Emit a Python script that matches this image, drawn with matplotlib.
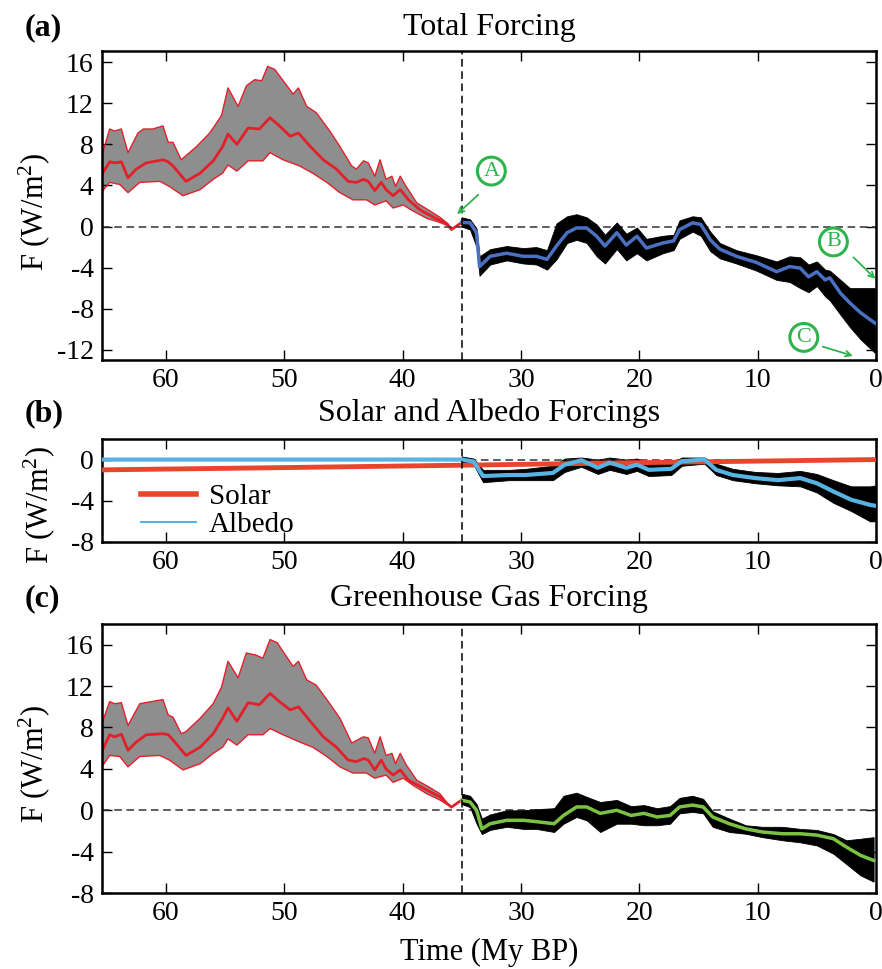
import numpy as np
import matplotlib.pyplot as plt
from matplotlib.lines import Line2D

plt.rcParams['font.family'] = ['Liberation Serif', 'DejaVu Serif']
plt.rcParams['mathtext.fontset'] = 'custom'
plt.rcParams['mathtext.rm'] = 'Liberation Serif'
plt.rcParams['mathtext.it'] = 'Liberation Serif:italic'
plt.rcParams['axes.unicode_minus'] = False

# ---- panel (a): total forcing before 35 My (envelope + central estimate)
a_up_x = [65.4, 64.75, 64.33, 63.76, 63.2, 62.36, 61.9, 61.1, 60.25, 59.8, 59.4, 58.7,
          58.3, 57.4, 56.3, 55.3, 54.75, 53.9, 53.2, 52.5, 51.9, 51.4, 50.8, 49.96,
          49.25, 48.8, 48.1, 47.3, 46.15, 45.3, 44.3, 43.9, 43.3, 42.9, 42.35, 41.9,
          41.4, 40.9, 40.6, 40.2, 39.7, 38.8, 37.8, 36.85, 36.2]
a_up_y = [6.9, 9.5, 9.3, 9.5, 7.2, 9.1, 9.5, 9.5, 9.8, 8.2, 8.2, 6.5,
          6.9, 7.8, 9.1, 10.8, 13.5, 11.7, 13.7, 14.3, 14.2, 15.6, 15.3, 14.0,
          12.9, 13.5, 11.7, 11.1, 9.3, 7.8, 5.9, 5.6, 6.4, 6.2, 4.9, 6.5,
          4.6, 4.9, 3.9, 4.9, 3.9, 2.3, 1.6, 0.9, 0.3]
a_lo_x = [65.4, 64.75, 63.9, 63.2, 62.2, 60.5, 59.7, 58.55, 57.1, 56.0, 55.2, 54.75,
          54.0, 53.05, 51.8, 51.2, 50.1, 48.7, 47.6, 46.4, 45.3, 44.2, 43.05, 42.35,
          41.4, 40.8, 39.95, 39.1, 37.95, 36.85, 36.2]
a_lo_y = [3.4, 4.3, 4.1, 3.3, 4.3, 4.4, 3.9, 3.0, 3.6, 4.6, 5.2, 6.0,
          5.4, 6.4, 6.4, 7.2, 6.5, 5.9, 5.2, 4.3, 3.3, 2.6, 2.6, 2.1,
          2.5, 1.8, 2.1, 1.5, 0.8, 0.4, 0.1]
a_mid_x = [65.4, 64.75, 64.3, 63.76, 63.2, 62.5, 61.65, 60.25, 59.8, 59.4, 58.3, 57.1,
           56.0, 55.2, 54.75, 54.0, 53.05, 52.1, 51.2, 50.4, 49.5, 48.8, 47.8, 46.7,
           45.6, 44.6, 43.9, 43.3, 42.9, 42.35, 41.8, 41.4, 40.8, 40.2, 39.5, 38.5,
           37.7, 36.85, 36.2, 35.87, 35.0]
a_mid_y = [5.1, 6.3, 6.2, 6.3, 4.75, 5.6, 6.2, 6.5, 6.3, 5.9, 4.4, 5.2,
           6.4, 7.8, 9.0, 8.0, 9.6, 9.5, 10.6, 9.8, 8.8, 9.1, 7.8, 6.5,
           5.6, 4.4, 4.3, 4.6, 4.4, 3.5, 4.3, 3.6, 3.0, 3.6, 2.6, 1.6,
           1.1, 0.6, 0.2, -0.3, 0.4]

# ---- panel (a): after 35 My, smoothed curve and spread of the data
a_post_x = [35.0, 34.3, 33.75, 33.5, 32.6, 31.2, 29.8, 28.7, 27.8, 27.0, 26.1, 25.3,
            24.45, 23.6, 22.9, 21.9, 21.1, 20.2, 19.4, 18.0, 17.1, 16.6, 15.5, 14.8,
            14.0, 13.2, 11.8, 10.1, 8.4, 7.3, 6.4, 5.7, 5.0, 4.3, 3.9, 3.0, 2.2, 1.3, 0.1]
a_post_y = [0.4, 0.36, -0.6, -3.9, -2.9, -2.6, -2.9, -2.9, -3.2, -1.9, -0.6, -0.14,
            -0.14, -0.95, -1.9, -0.6, -1.8, -0.95, -2.1, -1.6, -1.4, -0.3, 0.36, 0.2,
            -1.3, -2.2, -2.9, -3.5, -4.4, -3.9, -4.05, -4.9, -4.4, -5.2, -5.0, -6.5,
            -7.45, -8.4, -9.4]
a_post_up = [0.9, 0.7, -0.2, -2.9, -2.2, -1.9, -2.1, -2.0, -2.3, 0.3, 1.0, 1.2,
             0.9, 0.2, -0.8, 0.4, -0.7, -0.1, -1.2, -0.9, -0.8, 0.6, 1.0, 0.9,
             -0.5, -1.6, -2.3, -2.8, -3.4, -2.9, -3.0, -3.7, -3.4, -4.2, -4.3, -5.2,
             -6.0, -6.0, -6.0]
a_post_lo = [0.0, -0.3, -2.0, -4.8, -3.7, -3.3, -3.6, -3.7, -4.2, -3.2, -1.6, -1.3,
             -1.6, -2.9, -3.6, -2.2, -3.3, -2.6, -3.3, -2.6, -2.3, -1.2, -0.5, -0.9,
             -2.4, -3.1, -3.6, -4.3, -5.2, -5.4, -6.0, -6.4, -5.8, -6.8, -7.2, -8.6,
             -9.8, -11.0, -12.3]

# ---- panel (b): solar and albedo
solar_x = [65.4, 50.0, 35.0, 20.0, 0.0]
solar_y = [-1.0, -0.78, -0.55, -0.3, 0.0]
alb_x = [65.4, 35.0, 34.0, 33.2, 31.0, 29.6, 27.3, 26.3, 24.9, 23.5, 22.5, 21.1, 20.2,
         19.2, 17.3, 16.4, 14.5, 13.5, 12.1, 10.2, 8.3, 6.4, 5.0, 3.6, 2.1, 0.5, 0.0]
alb_y = [0.0, 0.0, -0.2, -1.6, -1.5, -1.5, -1.3, -0.5, -0.07, -0.8, -0.3, -0.8, -0.5,
         -1.0, -0.9, -0.16, 0.0, -1.0, -1.5, -1.8, -2.0, -1.8, -2.3, -3.1, -3.9, -4.4, -4.5]
alb_band_x = [35.0, 34.0, 33.2, 31.0, 29.6, 27.3, 26.3, 24.9, 23.5, 22.5, 21.1, 20.2,
              19.2, 17.3, 16.4, 14.5, 13.5, 12.1, 10.2, 8.3, 6.4, 5.0, 3.6, 2.1, 0.5, 0.0]
alb_band_up = [0.3, 0.1, -1.0, -1.0, -0.9, -0.6, 0.1, 0.2, 0.0, 0.2, 0.0, 0.1,
               -0.3, -0.3, 0.2, 0.2, -0.4, -0.9, -1.2, -1.3, -1.1, -1.4, -2.0, -2.6, -2.6, -2.5]
alb_band_lo = [-0.2, -0.5, -2.2, -2.0, -2.0, -2.0, -1.2, -0.7, -1.4, -1.0, -1.4, -1.1,
               -1.6, -1.5, -0.6, -0.4, -1.5, -2.0, -2.3, -2.5, -2.6, -3.2, -4.2, -5.0, -6.0, -6.0]

# ---- panel (c): greenhouse gas forcing before 35 My
c_up_x = [65.4, 64.75, 64.33, 63.76, 63.2, 62.2, 60.25, 59.8, 59.4, 58.7, 58.3, 57.1,
          56.0, 55.3, 54.75, 53.9, 53.2, 52.4, 51.8, 51.2, 50.6, 49.25, 48.8, 48.1,
          47.3, 46.15, 45.3, 44.3, 43.3, 42.9, 42.35, 41.9, 41.4, 40.9, 40.6, 40.2,
          39.7, 38.8, 37.7, 36.85, 36.3]
c_up_y = [8.4, 10.5, 10.3, 10.4, 8.2, 10.3, 10.7, 9.2, 9.0, 7.4, 7.6, 8.9,
          10.3, 11.9, 14.4, 12.8, 15.2, 15.0, 14.7, 16.5, 16.2, 13.9, 14.4, 12.6,
          12.1, 10.3, 8.9, 6.5, 7.1, 7.0, 5.5, 7.1, 5.3, 5.5, 4.5, 5.5,
          4.4, 2.9, 2.2, 1.6, 0.8]
c_lo_x = [65.4, 64.75, 63.9, 63.2, 62.2, 60.5, 59.7, 58.55, 57.1, 56.0, 55.2, 54.75,
          54.0, 53.05, 51.8, 51.2, 50.1, 48.7, 47.6, 46.4, 45.3, 44.2, 43.05, 42.35,
          41.4, 40.8, 39.95, 39.1, 37.95, 36.85, 36.3]
c_lo_y = [4.2, 5.3, 5.2, 4.2, 5.2, 5.3, 4.85, 3.9, 4.5, 5.5, 6.1, 6.9,
          6.3, 7.3, 7.3, 7.9, 7.3, 6.6, 6.1, 5.2, 4.2, 3.6, 3.6, 3.1,
          3.4, 2.7, 3.1, 2.4, 1.6, 1.0, 0.6]
c_mid_x = [65.4, 64.75, 64.33, 63.76, 63.2, 62.5, 61.65, 60.25, 59.8, 59.4, 58.3, 57.1,
           56.0, 55.2, 54.75, 54.0, 53.05, 52.1, 51.2, 50.4, 49.5, 48.8, 47.8, 46.7,
           45.6, 44.6, 43.9, 43.3, 42.9, 42.35, 41.8, 41.4, 40.8, 40.2, 39.5, 38.5,
           37.7, 36.85, 36.3, 35.87, 35.0]
c_mid_y = [5.7, 7.3, 7.1, 7.35, 5.8, 6.6, 7.3, 7.4, 7.3, 6.8, 5.3, 6.1,
           7.4, 8.9, 9.9, 8.6, 10.4, 10.2, 11.3, 10.5, 9.7, 10.0, 8.6, 7.1,
           6.1, 4.85, 4.7, 5.0, 4.85, 3.9, 4.85, 4.0, 3.4, 3.9, 2.9, 2.3,
           1.8, 1.3, 0.7, 0.3, 1.0]

# ---- panel (c): after 35 My
c_post_x = [35.0, 34.3, 33.75, 33.3, 32.6, 31.2, 29.8, 28.7, 27.2, 26.4, 25.3, 24.45,
            23.3, 21.9, 20.7, 19.6, 18.5, 17.4, 16.6, 15.5, 14.6, 13.8, 12.4, 11.0,
            9.6, 7.9, 6.4, 5.0, 3.6, 2.5, 1.3, 0.2]
c_post_y = [0.97, 0.8, 0.0, -1.8, -1.3, -0.97, -0.97, -1.1, -1.3, -0.5, 0.32, 0.32,
            -0.3, 0.0, -0.5, -0.3, -0.65, -0.5, 0.32, 0.5, 0.32, -0.65, -1.3, -1.8,
            -2.1, -2.27, -2.27, -2.4, -2.75, -3.56, -4.36, -4.85]
c_post_up = [1.6, 1.4, 0.6, -0.8, -0.4, 0.0, 0.0, 0.1, 0.2, 1.4, 1.7, 1.3,
             0.8, 1.0, 0.4, 0.5, 0.2, 0.4, 1.2, 1.4, 1.1, -0.1, -0.8, -1.45,
             -1.6, -1.6, -1.8, -1.9, -2.3, -2.9, -2.75, -2.6]
c_post_lo = [0.6, 0.3, -1.3, -2.3, -1.9, -1.6, -1.8, -1.8, -2.1, -1.3, -0.65, -0.97,
             -2.1, -1.3, -1.3, -1.45, -1.45, -1.3, -0.3, -0.16, -0.3, -1.6, -2.1, -2.27,
             -2.6, -2.9, -3.1, -3.4, -4.2, -5.2, -6.3, -6.9]

RED = '#e3202a'
GRAY = '#8e8e8e'
BLUE = '#4a70c2'
LBLUE = '#58b2e2'
SOLAR = '#e8462c'
LGREEN = '#7cc242'
ANN = '#2fb34c'

fig = plt.figure(figsize=(8.82, 9.69), dpi=100)
ax_a = fig.add_axes([0.1156, 0.6285, 0.8776, 0.3189])
ax_b = fig.add_axes([0.1156, 0.4407, 0.8776, 0.1063])
ax_c = fig.add_axes([0.1156, 0.0784, 0.8776, 0.2776])


def style(ax, ylim, yticks, ylab_x, ylab_y):
    ax.set_xlim(65.4, 0)
    ax.set_ylim(*ylim)
    ax.set_xticks([60, 50, 40, 30, 20, 10, 0])
    ax.set_yticks(yticks)
    ax.tick_params(direction='in', top=True, right=True, labelsize=20,
                   length=7, width=1, pad=6)
    for s in ax.spines.values():
        s.set_linewidth(1.8)
    ax.axvline(35, color='k', ls=(0, (5, 3)), lw=1.1, zorder=6)
    ax.axhline(0, color='#333333', ls=(0, (5, 3)), lw=1.1, zorder=2.5)
    ax.set_ylabel('F (W/m$^{2}$)', fontsize=22)
    ax.yaxis.set_label_coords(ylab_x, ylab_y)


def envelope(ax, ux, uy, lx, ly, mx, my):
    px = np.concatenate([ux, lx[::-1]])
    py = np.concatenate([uy, ly[::-1]])
    ax.fill(px, py, facecolor=GRAY, edgecolor='none', zorder=1)
    ax.plot(ux, uy, color=RED, lw=1.0, zorder=2)
    ax.plot(lx, ly, color=RED, lw=1.0, zorder=2)
    ax.plot(mx, my, color=RED, lw=2.0, zorder=2)


# (a)
envelope(ax_a, a_up_x, a_up_y, a_lo_x, a_lo_y, a_mid_x, a_mid_y)
ax_a.fill_between(a_post_x, a_post_lo, a_post_up, color='k', lw=0.6, zorder=3)
ax_a.plot(a_post_x, a_post_y, color=BLUE, lw=2.5, zorder=4)
style(ax_a, (-13, 17.1), np.arange(-12, 17, 4), -0.064, 0.48)

circ = dict(boxstyle='circle,pad=0.2', fc='white', ec=ANN, lw=2.2)
ax_a.text(32.5, 5.4, 'A', color=ANN, fontsize=16, ha='center', va='center', bbox=circ, zorder=8)
ax_a.text(3.6, -1.5, 'B', color=ANN, fontsize=16, ha='center', va='center', bbox=circ, zorder=8)
ax_a.text(6.1, -10.8, 'C', color=ANN, fontsize=16, ha='center', va='center', bbox=circ, zorder=8)
arr = dict(arrowstyle='->', color=ANN, lw=1.3, shrinkA=0, shrinkB=0)
ax_a.annotate('', xy=(35.4, 1.2), xytext=(33.6, 3.1), arrowprops=arr, zorder=8)
ax_a.annotate('', xy=(0.05, -5.1), xytext=(1.9, -3.0), arrowprops=arr, zorder=8,
              annotation_clip=False)
ax_a.annotate('', xy=(1.95, -12.6), xytext=(4.5, -11.7), arrowprops=arr, zorder=8)

# (b)
ax_b.fill_between(alb_band_x, alb_band_lo, alb_band_up, color='k', lw=0.6, zorder=2)
ax_b.plot(solar_x, solar_y, color=SOLAR, lw=3.5, zorder=3)
ax_b.plot(alb_x, alb_y, color=LBLUE, lw=3.0, zorder=4)
style(ax_b, (-8, 2), [-8, -4, 0], -0.058, 0.36)
handles = [Line2D([], [], color=SOLAR, lw=4), Line2D([], [], color=LBLUE, lw=1.5)]
ax_b.legend(handles, ['Solar', 'Albedo'], loc='lower left', bbox_to_anchor=(0.05, 0.04),
            frameon=False, fontsize=21, handlelength=1.9, handletextpad=0.45,
            labelspacing=0.05, borderpad=0, borderaxespad=0)

# (c)
envelope(ax_c, c_up_x, c_up_y, c_lo_x, c_lo_y, c_mid_x, c_mid_y)
ax_c.fill_between(c_post_x, c_post_lo, c_post_up, color='k', lw=0.6, zorder=3)
ax_c.plot(c_post_x, c_post_y, color=LGREEN, lw=2.5, zorder=4)
style(ax_c, (-8, 18), np.arange(-8, 17, 4), -0.064, 0.48)

# titles and panel letters
xc = 0.5544
fig.text(xc, 0.9639, 'Total Forcing', fontsize=23, ha='center', va='baseline')
fig.text(xc, 0.5655, 'Solar and Albedo Forcings', fontsize=23, ha='center', va='baseline')
fig.text(xc, 0.3746, 'Greenhouse Gas Forcing', fontsize=23, ha='center', va='baseline')
for lab, yb in [('(a)', 0.9639), ('(b)', 0.5655), ('(c)', 0.3746)]:
    fig.text(0.028, yb, lab, fontsize=23, fontweight='bold', va='baseline')
fig.text(xc, 0.0093, 'Time (My BP)', fontsize=22, ha='center', va='baseline')

fig.savefig('out.png', dpi=100)
